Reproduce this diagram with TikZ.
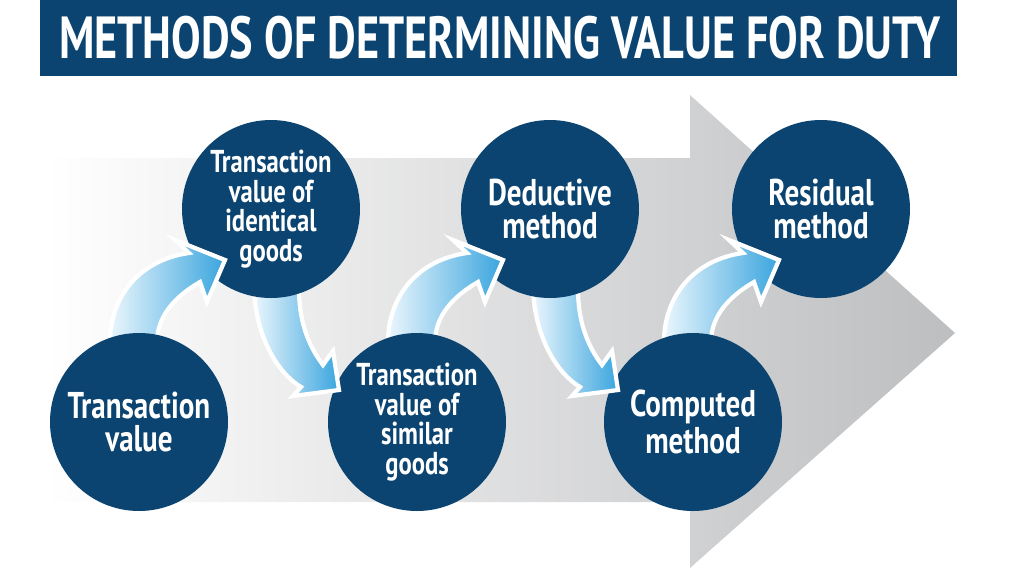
\documentclass[tikz,border=0pt]{standalone}
\usepackage{fontspec}
\usepackage{tikz}
\usetikzlibrary{positioning}
\newfontfamily\titlefont[FakeStretch=0.745]{PT Sans}
\newfontfamily\circfont[FakeStretch=0.78]{PT Sans}
\definecolor{dutyblue}{HTML}{0B4470}
\definecolor{flowlight}{HTML}{EAF6FD}
\definecolor{flowblue}{HTML}{3AA5DE}
\definecolor{bggray}{HTML}{BDBEC0}
\tikzset{
  method/.style={circle, fill=dutyblue, minimum size=1.78cm, inner sep=0pt,
    text=white, align=center, font=\circfont\bfseries\fontsize{10.6}{9.2}\selectfont},
  longmethod/.style={method, font=\circfont\bfseries\fontsize{9.0}{8.4}\selectfont},
  flow/.style={left color=flowlight, right color=flowblue, draw=white,
    line width=1.2pt, line join=miter},
  uparrow/.pic={
    \path[flow] (-0.29,0.80) .. controls (-0.29,1.25) and (0.0,1.62) .. (0.50,1.69)
      -- (0.36,1.82) -- (0.86,1.62) -- (0.68,1.20) -- (0.61,1.40)
      .. controls (0.35,1.25) and (0.18,1.05) .. (0.18,0.80) -- cycle;
  },
  downarrow/.pic={
    \path[flow] (-0.17,-0.80) .. controls (-0.15,-1.30) and (0.08,-1.65) .. (0.30,-1.78)
      -- (0.22,-1.87) -- (0.68,-1.81) -- (0.62,-1.42) -- (0.52,-1.56)
      .. controls (0.36,-1.35) and (0.28,-1.10) .. (0.28,-0.80) -- cycle;
  }
}

\begin{document}
\begin{tikzpicture}
    \useasboundingbox (0,0) rectangle (10.24,5.76);

    % Title bar
    \fill[dutyblue] (0.40,5.00) rectangle (9.57,5.76);
    \node[text=white, inner sep=0pt, font=\titlefont\bfseries\fontsize{16.9}{18}\selectfont]
        (title) at (5.00,5.385) {METHODS OF DETERMINING VALUE FOR DUTY};

    % Background arrow
    \path[left color=white, right color=bggray]
        (0.45,4.18) -- (6.90,4.18) -- (6.90,4.81) -- (9.55,2.43)
        -- (6.90,0.08) -- (6.90,0.74) -- (0.45,0.74) -- cycle;

    % Positions
    \coordinate (m1) at (1.39,1.54);
    \coordinate (m2) at (2.71,3.67);
    \coordinate (m3) at (4.17,1.54);
    \coordinate (m4) at (5.50,3.67);
    \coordinate (m5) at (6.93,1.54);
    \coordinate (m6) at (8.21,3.67);

    % Methods, right to left so each arrow tucks under its source
    \node[method] (residual) at (m6) {Residual\\method};
    \pic at (m5) {uparrow};
    \node[method] (computed) at (m5) {Computed\\method};
    \pic at (m4) {downarrow};
    \node[method] (deductive) at (m4) {Deductive\\method};
    \pic at (m3) {uparrow};
    \node[longmethod] (similar) at (m3) {Transaction\\value of\\similar\\goods};
    \pic at (m2) {downarrow};
    \node[longmethod] (identical) at (m2) {Transaction\\value of\\identical\\goods};
    \pic at (m1) {uparrow};
    \node[method] (transaction) at (m1) {Transaction\\value};
\end{tikzpicture}
\end{document}
